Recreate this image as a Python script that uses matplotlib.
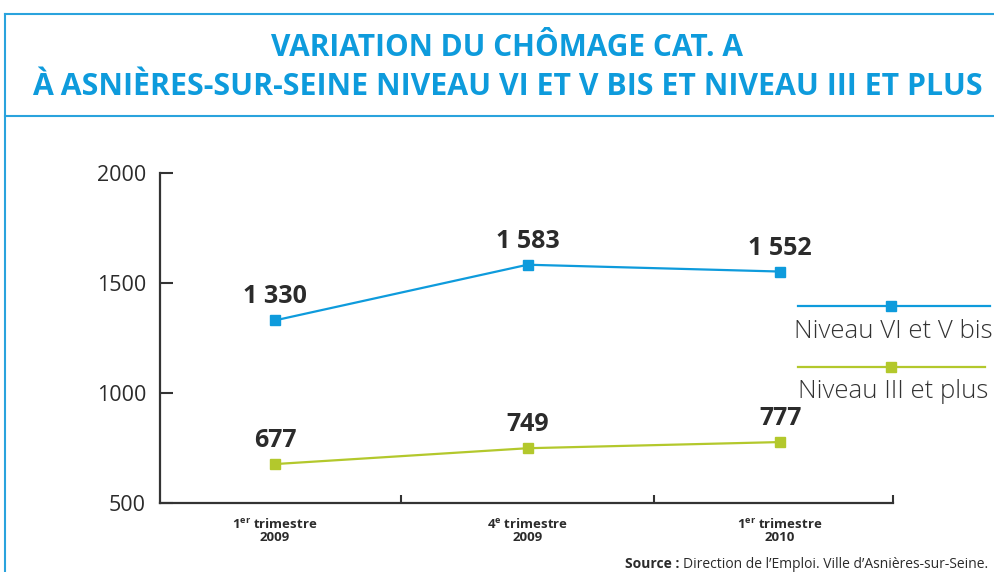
import matplotlib
matplotlib.use("Agg")
import matplotlib.pyplot as plt
from matplotlib.lines import Line2D
import numpy as np

# ---- data ----
categories = ["1$^{\\mathbf{er}}$ trimestre\n2009", "4$^{\\mathbf{e}}$ trimestre\n2009", "1$^{\\mathbf{er}}$ trimestre\n2010"]
niveau_vi_v_bis = [1330, 1583, 1552]
niveau_iii_plus = [677, 749, 777]
series_names = ["Niveau VI et V bis", "Niveau III et plus"]
y_ticks = [500, 1000, 1500, 2000]

BLUE = "#0e9bdc"
GREEN = "#b3c82c"
FRAME = "#2aa3dd"
TEXT = "#2b2b2b"

plt.rcParams["font.family"] = ["Open Sans", "DejaVu Sans"]
plt.rcParams["mathtext.fontset"] = "custom"
plt.rcParams["mathtext.rm"] = "Open Sans"
plt.rcParams["mathtext.bf"] = "Open Sans:bold"

fig = plt.figure(figsize=(9.95, 5.72), dpi=100)
ax = fig.add_axes([0.1608, 0.1206, 0.8975 - 0.1608, 0.6976 - 0.1206])

x = np.arange(len(categories))
for vals, col in [(niveau_vi_v_bis, BLUE), (niveau_iii_plus, GREEN)]:
    ax.plot(x, vals, color=col, lw=1.6, marker="s", ms=7.5, mec=col, mfc=col, zorder=3)
    for xi, v in zip(x, vals):
        ax.annotate(f"{v:,}".replace(",", " "), (xi, v), xytext=(0, 11),
                    textcoords="offset pixels", ha="center", va="bottom",
                    fontsize=18, fontweight="bold", color=TEXT)

x_lo, x_hi = -0.455, len(categories) - 1 + 0.447
ax.set_xlim(x_lo, x_hi)
ax.set_ylim(y_ticks[0], y_ticks[-1])
ax.set_yticks(y_ticks)
ax.set_yticklabels([str(t) for t in y_ticks], fontsize=15.5, color=TEXT)
ax.tick_params(axis="y", direction="in", length=9, width=1.5, color="#333333", pad=10)
ax.set_xticks(list(x[:-1] + 0.5) + [x_hi], minor=True)
ax.set_xticks(x)
ax.set_xticklabels(categories, fontsize=9.5, fontweight="bold", color=TEXT, linespacing=1.0)
ax.tick_params(axis="x", which="major", length=0, pad=10)
ax.tick_params(axis="x", which="minor", direction="in", length=6, width=1.5, color="#333333")
for s in ["top", "right"]:
    ax.spines[s].set_visible(False)
for s in ["left", "bottom"]:
    ax.spines[s].set_linewidth(1.6)
    ax.spines[s].set_color("#333333")

# frame and title
fig.add_artist(Line2D([5 / 995, 1.0], [1 - 14 / 572] * 2, color=FRAME, lw=1.5))
fig.add_artist(Line2D([5 / 995, 1.0], [1 - 116 / 572] * 2, color=FRAME, lw=1.5))
fig.add_artist(Line2D([5 / 995] * 2, [0.0, 1 - 14 / 572], color=FRAME, lw=1.5))
fig.text(0.5095, 1 - 48 / 572, "VARIATION DU CHÔMAGE CAT. A", ha="center", va="center",
         fontsize=21.5, fontweight="bold", color=BLUE)
fig.text(0.5095, 1 - 87 / 572, "À ASNIÈRES-SUR-SEINE NIVEAU VI ET V BIS ET NIVEAU III ET PLUS",
         ha="center", va="center", fontsize=21.8, fontweight="bold", color=BLUE)

# legend (drawn manually, text below the line)
leg_y = [1 - 306 / 572, 1 - 367 / 572]
leg_x1 = [990 / 995, 985 / 995]
for name, col, ly, x1 in zip(series_names, [BLUE, GREEN], leg_y, leg_x1):
    fig.add_artist(Line2D([798 / 995, x1], [ly, ly], color=col, lw=1.6))
    fig.add_artist(Line2D([891 / 995], [ly], color=col, marker="s", ms=7.5, lw=0))
    fig.text(893 / 995, ly - 25 / 572, name, ha="center", va="center",
             fontsize=18.5, color="#333333", fontweight="light")

src = fig.text(988 / 995, 1 - 564 / 572, "Direction de l’Emploi. Ville d’Asnières-sur-Seine.",
               ha="right", va="center", fontsize=10, color=TEXT)
fig.canvas.draw()
bb = src.get_window_extent(fig.canvas.get_renderer())
fig.text((bb.x0 - 3) / fig.bbox.width, 1 - 564 / 572, "Source :", ha="right", va="center",
         fontsize=10, fontweight="bold", color=TEXT)

fig.savefig("out.png", dpi=100)
